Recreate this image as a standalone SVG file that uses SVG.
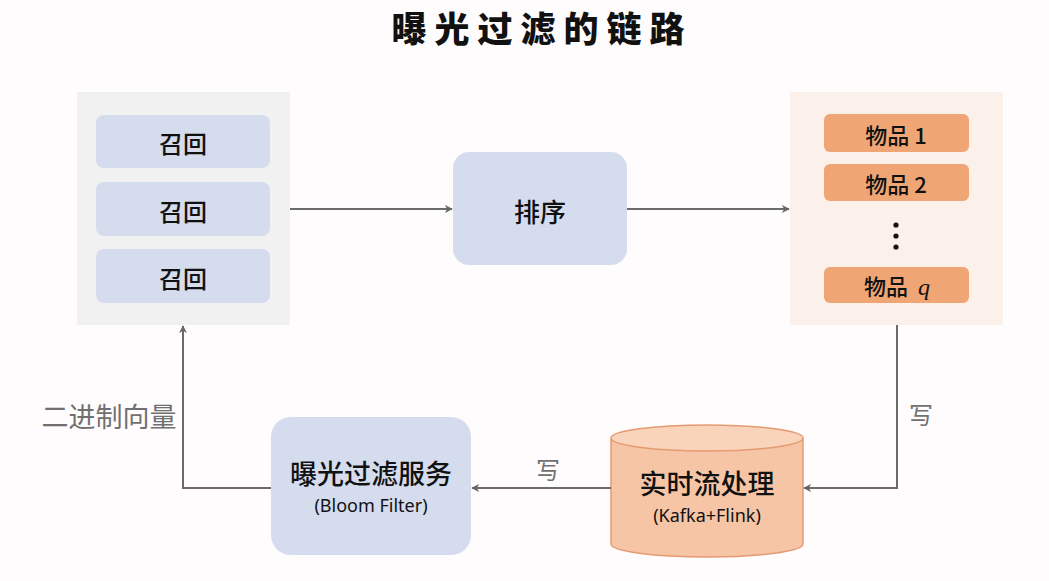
<svg xmlns="http://www.w3.org/2000/svg" width="1049" height="581" viewBox="0 0 1049 581">
<defs>
<marker id="ah" viewBox="0 0 10 10" refX="9" refY="5" markerWidth="8" markerHeight="8" orient="auto" markerUnits="userSpaceOnUse">
<path d="M0,0 L10,5 L0,10 L3,5 z" fill="#666"/>
</marker>
<style>
.cjk{font-family:"Noto Sans CJK SC","Noto Sans",sans-serif;}
.lbl{font-weight:500;fill:#111;text-anchor:middle;dominant-baseline:central;}
.blue{fill:#d5dcee;}
.item{fill:#f0a574;}
.conn{fill:none;stroke:#6b6b6b;stroke-width:2;}
.gray{fill:#707070;text-anchor:middle;dominant-baseline:central;}
.sub{font-family:"Noto Sans",sans-serif;fill:#111;text-anchor:middle;dominant-baseline:central;}
</style>
</defs>
<rect width="1049" height="581" fill="#fefcfc"/>
<text x="542" y="26" class="cjk" font-size="35" font-weight="900" text-anchor="middle" dominant-baseline="central" fill="#111" letter-spacing="8">曝光过滤的链路</text>

<g id="recall">
<rect x="77" y="92" width="213" height="233" fill="#f2f1f1"/>
<rect x="96" y="115" width="174" height="53" rx="8" class="blue"/>
<text x="183" y="142" class="cjk lbl" font-size="24">召回</text>
<rect x="96" y="182" width="174" height="54" rx="8" class="blue"/>
<text x="183" y="210" class="cjk lbl" font-size="24">召回</text>
<rect x="96" y="249" width="174" height="54" rx="8" class="blue"/>
<text x="183" y="277" class="cjk lbl" font-size="24">召回</text>
</g>

<g id="rank">
<rect x="453" y="152" width="174" height="113" rx="16" class="blue"/>
<text x="540" y="210" class="cjk lbl" font-size="26">排序</text>
</g>

<g id="items">
<rect x="790" y="92" width="213" height="233" fill="#fbf0ea"/>
<rect x="824" y="114" width="145" height="38" rx="6" class="item"/>
<text x="896" y="134" class="cjk lbl" font-size="22">物品 1</text>
<rect x="824" y="164" width="145" height="37" rx="6" class="item"/>
<text x="896" y="183" class="cjk lbl" font-size="22">物品 2</text>
<circle cx="896" cy="225" r="2.6" fill="#111"/>
<circle cx="896" cy="236" r="2.6" fill="#111"/>
<circle cx="896" cy="247" r="2.6" fill="#111"/>
<rect x="824" y="267" width="145" height="36" rx="6" class="item"/>
<text x="886" y="285" class="cjk lbl" font-size="22">物品</text>
<text x="924" y="287" font-family="Liberation Serif,serif" font-style="italic" font-size="24" fill="#111" text-anchor="middle" dominant-baseline="central">q</text>
</g>

<g id="stream">
<path d="M611,438 L611,544 A96,13 0 0 0 803,544 L803,438" fill="#f6c5a6" stroke="#e59b72" stroke-width="1.5"/>
<ellipse cx="707" cy="438" rx="96" ry="13" fill="#fad3bb" stroke="#e59b72" stroke-width="1.5"/>
<text x="707" y="482" class="cjk lbl" font-size="27">实时流处理</text>
<text x="707" y="515" class="sub" font-size="18">(Kafka+Flink)</text>
</g>

<g id="bloom">
<rect x="271" y="417" width="200" height="138" rx="20" class="blue"/>
<text x="371" y="472" class="cjk lbl" font-size="27">曝光过滤服务</text>
<text x="371" y="505" class="sub" font-size="18">(Bloom Filter)</text>
</g>

<g id="connectors">
<path d="M290,209 L452,209" class="conn" marker-end="url(#ah)"/>
<path d="M627,209 L789,209" class="conn" marker-end="url(#ah)"/>
<path d="M897,325 L897,488 L804,488" class="conn" marker-end="url(#ah)"/>
<path d="M611,488 L472,488" class="conn" marker-end="url(#ah)"/>
<path d="M271,488 L183,488 L183,326" class="conn" marker-end="url(#ah)"/>
<text x="921" y="413" class="cjk gray" font-size="24">写</text>
<text x="548" y="468" class="cjk gray" font-size="24">写</text>
<text x="109" y="415" class="cjk gray" font-size="27">二进制向量</text>
</g>
</svg>
